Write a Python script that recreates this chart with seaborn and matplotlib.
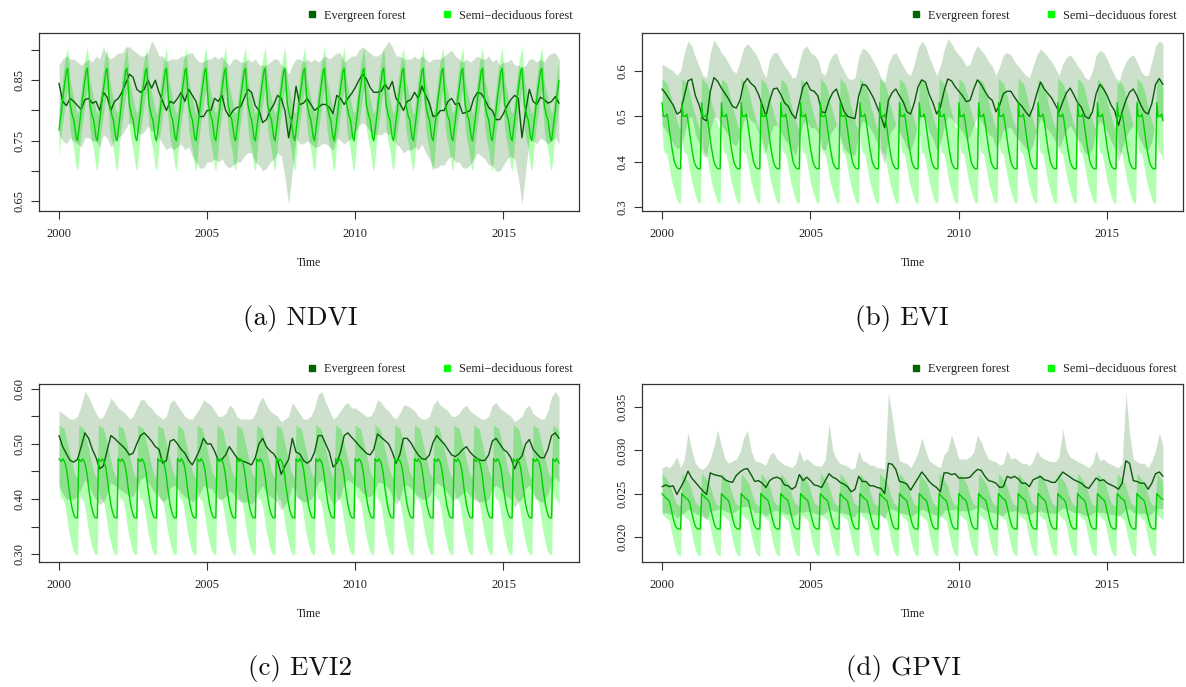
import numpy as np
import pandas as pd
import matplotlib
matplotlib.use("Agg")
import matplotlib.pyplot as plt
import seaborn as sns
from matplotlib.lines import Line2D

# ---------------- data ----------------
start_year = 2000
ever_per_year = 8          # evergreen series sampled every 1/8 year
semi_per_year = 24         # semi-deciduous series sampled every 1/24 year
n_ever = 136
n_semi = 406

x_ticks = [2000, 2005, 2010, 2015]
x_limits = (1999.325, 2017.55)

# ---- (a) NDVI ----
ndvi_ever_mean = [
    0.845, 0.815, 0.808, 0.82, 0.815, 0.808, 0.802, 0.818,
    0.82, 0.812, 0.815, 0.80, 0.83, 0.822, 0.80, 0.815,
    0.82, 0.83, 0.845, 0.86, 0.855, 0.835, 0.83, 0.835,
    0.85, 0.837, 0.85, 0.83, 0.815, 0.80, 0.815, 0.812,
    0.82, 0.83, 0.815, 0.835, 0.825, 0.815, 0.79, 0.79,
    0.80, 0.80, 0.82, 0.815, 0.825, 0.80, 0.79, 0.80,
    0.805, 0.806, 0.82, 0.835, 0.83, 0.808, 0.80, 0.78,
    0.785, 0.80, 0.81, 0.825, 0.82, 0.80, 0.755, 0.79,
    0.84, 0.81, 0.812, 0.82, 0.81, 0.80, 0.805, 0.81,
    0.81, 0.805, 0.795, 0.825, 0.82, 0.81, 0.82, 0.828,
    0.838, 0.85, 0.86, 0.852, 0.838, 0.83, 0.83, 0.832,
    0.843, 0.835, 0.848, 0.82, 0.812, 0.80, 0.815, 0.818,
    0.83, 0.82, 0.84, 0.825, 0.812, 0.79, 0.792, 0.80,
    0.80, 0.815, 0.82, 0.81, 0.812, 0.795, 0.797, 0.80,
    0.82, 0.83, 0.828, 0.818, 0.805, 0.80, 0.785, 0.785,
    0.795, 0.808, 0.818, 0.825, 0.82, 0.755, 0.80, 0.835,
    0.815, 0.81, 0.822, 0.818, 0.812, 0.815, 0.823, 0.812]
ndvi_ever_hi = [
    0.875, 0.885, 0.89, 0.885, 0.885, 0.88, 0.875, 0.88,
    0.885, 0.88, 0.89, 0.885, 0.905, 0.89, 0.885, 0.89,
    0.895, 0.895, 0.905, 0.905, 0.90, 0.895, 0.89, 0.89,
    0.895, 0.915, 0.905, 0.89, 0.89, 0.88, 0.885, 0.885,
    0.885, 0.89, 0.89, 0.895, 0.895, 0.885, 0.88, 0.88,
    0.885, 0.885, 0.89, 0.885, 0.89, 0.88, 0.875, 0.885,
    0.885, 0.88, 0.88, 0.885, 0.88, 0.885, 0.875, 0.875,
    0.875, 0.88, 0.885, 0.885, 0.875, 0.87, 0.86, 0.875,
    0.885, 0.885, 0.88, 0.885, 0.88, 0.885, 0.88, 0.885,
    0.89, 0.885, 0.89, 0.895, 0.895, 0.88, 0.885, 0.89,
    0.89, 0.90, 0.905, 0.90, 0.895, 0.89, 0.89, 0.895,
    0.905, 0.915, 0.905, 0.89, 0.89, 0.885, 0.885, 0.885,
    0.89, 0.885, 0.89, 0.885, 0.88, 0.885, 0.885, 0.885,
    0.89, 0.895, 0.90, 0.89, 0.885, 0.88, 0.885, 0.88,
    0.885, 0.89, 0.885, 0.885, 0.89, 0.88, 0.885, 0.875,
    0.88, 0.88, 0.885, 0.875, 0.875, 0.87, 0.875, 0.885,
    0.885, 0.88, 0.885, 0.88, 0.89, 0.895, 0.895, 0.885]
ndvi_ever_lo = [
    0.76, 0.75, 0.745, 0.755, 0.75, 0.745, 0.74, 0.755,
    0.755, 0.75, 0.75, 0.74, 0.76, 0.755, 0.74, 0.75,
    0.755, 0.76, 0.77, 0.78, 0.775, 0.765, 0.76, 0.765,
    0.775, 0.765, 0.77, 0.755, 0.745, 0.735, 0.74, 0.735,
    0.74, 0.745, 0.735, 0.74, 0.725, 0.715, 0.705, 0.705,
    0.715, 0.715, 0.72, 0.715, 0.72, 0.71, 0.705, 0.71,
    0.715, 0.715, 0.725, 0.73, 0.73, 0.715, 0.71, 0.70,
    0.705, 0.715, 0.72, 0.73, 0.725, 0.69, 0.645, 0.70,
    0.755, 0.745, 0.745, 0.75, 0.745, 0.74, 0.74, 0.745,
    0.745, 0.74, 0.735, 0.755, 0.75, 0.745, 0.75, 0.755,
    0.765, 0.775, 0.78, 0.775, 0.765, 0.76, 0.76, 0.76,
    0.765, 0.76, 0.765, 0.745, 0.74, 0.73, 0.735, 0.735,
    0.74, 0.735, 0.745, 0.73, 0.72, 0.705, 0.705, 0.71,
    0.71, 0.72, 0.725, 0.715, 0.715, 0.705, 0.705, 0.71,
    0.72, 0.73, 0.725, 0.72, 0.71, 0.71, 0.70, 0.70,
    0.71, 0.72, 0.725, 0.72, 0.69, 0.645, 0.70, 0.755,
    0.75, 0.745, 0.755, 0.75, 0.745, 0.75, 0.755, 0.745]
ndvi_semi_cycle_mean = [0.767, 0.785, 0.80, 0.82, 0.835, 0.85, 0.865, 0.87,
                        0.84, 0.81, 0.80, 0.79, 0.785, 0.77, 0.755, 0.75]
ndvi_semi_cycle_hi = [0.80, 0.82, 0.835, 0.855, 0.87, 0.885, 0.895, 0.905,
                      0.88, 0.85, 0.84, 0.83, 0.82, 0.81, 0.80, 0.795]
ndvi_semi_cycle_lo = [0.72, 0.745, 0.765, 0.78, 0.795, 0.81, 0.825, 0.835,
                      0.80, 0.77, 0.755, 0.745, 0.735, 0.72, 0.705, 0.70]
ndvi_yticks = [0.65, 0.70, 0.75, 0.80, 0.85, 0.90]
ndvi_yticklabels = ["0.65", "", "0.75", "", "0.85", ""]
ndvi_ylim = (0.634, 0.928)

# ---- (b) EVI ----
evi_ever_mean = [
    0.56, 0.55, 0.537, 0.525, 0.505, 0.51, 0.545, 0.578,
    0.582, 0.545, 0.525, 0.495, 0.49, 0.555, 0.585, 0.577,
    0.562, 0.55, 0.537, 0.522, 0.518, 0.535, 0.572, 0.583,
    0.572, 0.565, 0.548, 0.525, 0.50, 0.535, 0.56, 0.562,
    0.548, 0.53, 0.522, 0.505, 0.495, 0.53, 0.565, 0.575,
    0.558, 0.555, 0.545, 0.51, 0.508, 0.535, 0.552, 0.56,
    0.535, 0.512, 0.50, 0.497, 0.495, 0.545, 0.57, 0.568,
    0.555, 0.54, 0.52, 0.50, 0.475, 0.535, 0.552, 0.56,
    0.545, 0.532, 0.51, 0.505, 0.53, 0.565, 0.58, 0.575,
    0.548, 0.53, 0.505, 0.52, 0.555, 0.582, 0.578, 0.565,
    0.555, 0.545, 0.532, 0.535, 0.56, 0.58, 0.57, 0.555,
    0.542, 0.535, 0.51, 0.525, 0.55, 0.555, 0.555, 0.542,
    0.53, 0.522, 0.51, 0.50, 0.52, 0.55, 0.575, 0.56,
    0.55, 0.54, 0.525, 0.51, 0.532, 0.552, 0.562, 0.547,
    0.53, 0.52, 0.50, 0.495, 0.51, 0.55, 0.57, 0.56,
    0.545, 0.525, 0.512, 0.48, 0.51, 0.535, 0.553, 0.56,
    0.545, 0.525, 0.51, 0.505, 0.528, 0.57, 0.583, 0.57]
evi_ever_hi = [
    0.615, 0.61, 0.605, 0.60, 0.59, 0.60, 0.64, 0.665,
    0.655, 0.63, 0.61, 0.59, 0.585, 0.64, 0.668, 0.655,
    0.64, 0.63, 0.615, 0.60, 0.595, 0.62, 0.65, 0.66,
    0.65, 0.64, 0.625, 0.60, 0.585, 0.625, 0.64, 0.64,
    0.625, 0.61, 0.60, 0.585, 0.585, 0.62, 0.648, 0.655,
    0.64, 0.635, 0.625, 0.595, 0.59, 0.62, 0.635, 0.64,
    0.615, 0.60, 0.585, 0.58, 0.585, 0.63, 0.65, 0.645,
    0.635, 0.62, 0.605, 0.585, 0.575, 0.615, 0.635, 0.64,
    0.625, 0.61, 0.595, 0.59, 0.615, 0.65, 0.665, 0.655,
    0.63, 0.61, 0.59, 0.61, 0.645, 0.67, 0.66, 0.645,
    0.635, 0.625, 0.61, 0.615, 0.64, 0.655, 0.645, 0.635,
    0.62, 0.61, 0.59, 0.61, 0.635, 0.64, 0.635, 0.62,
    0.61, 0.60, 0.59, 0.585, 0.61, 0.635, 0.648, 0.64,
    0.63, 0.62, 0.605, 0.59, 0.615, 0.63, 0.635, 0.625,
    0.61, 0.60, 0.585, 0.58, 0.60, 0.635, 0.645, 0.64,
    0.625, 0.605, 0.59, 0.57, 0.60, 0.62, 0.63, 0.635,
    0.62, 0.60, 0.59, 0.59, 0.62, 0.655, 0.665, 0.66]
evi_ever_lo = [
    0.48, 0.47, 0.455, 0.44, 0.43, 0.43, 0.46, 0.495,
    0.50, 0.46, 0.44, 0.415, 0.41, 0.47, 0.50, 0.495,
    0.48, 0.47, 0.455, 0.44, 0.435, 0.455, 0.49, 0.50,
    0.49, 0.485, 0.465, 0.445, 0.42, 0.455, 0.48, 0.48,
    0.465, 0.45, 0.44, 0.425, 0.415, 0.45, 0.485, 0.49,
    0.475, 0.475, 0.465, 0.43, 0.425, 0.455, 0.47, 0.48,
    0.455, 0.43, 0.42, 0.415, 0.415, 0.465, 0.49, 0.485,
    0.475, 0.46, 0.44, 0.42, 0.395, 0.455, 0.47, 0.48,
    0.465, 0.45, 0.43, 0.425, 0.45, 0.485, 0.50, 0.495,
    0.465, 0.45, 0.425, 0.44, 0.475, 0.50, 0.495, 0.485,
    0.475, 0.465, 0.45, 0.455, 0.48, 0.50, 0.49, 0.475,
    0.46, 0.455, 0.43, 0.445, 0.47, 0.475, 0.475, 0.46,
    0.45, 0.44, 0.43, 0.42, 0.44, 0.47, 0.495, 0.48,
    0.47, 0.46, 0.445, 0.43, 0.45, 0.47, 0.48, 0.465,
    0.45, 0.44, 0.42, 0.415, 0.43, 0.47, 0.49, 0.48,
    0.465, 0.445, 0.43, 0.40, 0.43, 0.455, 0.47, 0.48,
    0.465, 0.445, 0.43, 0.425, 0.445, 0.49, 0.50, 0.49]
evi_semi_cycle_mean = [0.53, 0.50, 0.50, 0.50, 0.505, 0.49, 0.47, 0.45,
                       0.43, 0.415, 0.40, 0.393, 0.388, 0.385, 0.385, 0.385]
evi_semi_cycle_hi = [0.585, 0.58, 0.578, 0.575, 0.572, 0.565, 0.555, 0.545,
                     0.53, 0.52, 0.51, 0.50, 0.49, 0.48, 0.475, 0.47]
evi_semi_cycle_lo = [0.47, 0.43, 0.42, 0.42, 0.415, 0.40, 0.385, 0.37,
                     0.355, 0.345, 0.335, 0.325, 0.318, 0.31, 0.31, 0.31]
evi_yticks = [0.3, 0.4, 0.5, 0.6]
evi_yticklabels = ["0.3", "0.4", "0.5", "0.6"]
evi_ylim = (0.292, 0.683)

# ---- (c) EVI2 ----
evi2_ever_mean = [
    0.515, 0.495, 0.482, 0.47, 0.467, 0.472, 0.495, 0.52,
    0.51, 0.49, 0.475, 0.455, 0.46, 0.488, 0.515, 0.51,
    0.503, 0.497, 0.49, 0.48, 0.483, 0.50, 0.515, 0.52,
    0.513, 0.505, 0.495, 0.49, 0.465, 0.47, 0.505, 0.508,
    0.50, 0.49, 0.483, 0.47, 0.462, 0.475, 0.49, 0.51,
    0.50, 0.50, 0.487, 0.47, 0.472, 0.48, 0.495, 0.485,
    0.475, 0.47, 0.468, 0.465, 0.462, 0.475, 0.50, 0.51,
    0.495, 0.487, 0.482, 0.47, 0.445, 0.46, 0.472, 0.51,
    0.485, 0.482, 0.47, 0.465, 0.47, 0.485, 0.515, 0.515,
    0.50, 0.485, 0.458, 0.465, 0.485, 0.515, 0.52, 0.512,
    0.505, 0.497, 0.49, 0.483, 0.48, 0.49, 0.518, 0.512,
    0.506, 0.50, 0.485, 0.465, 0.48, 0.51, 0.51, 0.502,
    0.49, 0.48, 0.473, 0.472, 0.48, 0.503, 0.515, 0.507,
    0.50, 0.49, 0.48, 0.477, 0.482, 0.49, 0.495, 0.485,
    0.478, 0.473, 0.47, 0.47, 0.48, 0.505, 0.51, 0.50,
    0.49, 0.485, 0.475, 0.455, 0.47, 0.478, 0.50, 0.508,
    0.49, 0.482, 0.475, 0.475, 0.49, 0.515, 0.52, 0.51]
evi2_ever_hi = [
    0.56, 0.555, 0.55, 0.545, 0.545, 0.55, 0.57, 0.595,
    0.585, 0.57, 0.555, 0.545, 0.55, 0.565, 0.583, 0.575,
    0.565, 0.56, 0.555, 0.545, 0.55, 0.565, 0.58, 0.58,
    0.57, 0.565, 0.555, 0.55, 0.545, 0.55, 0.575, 0.58,
    0.57, 0.56, 0.55, 0.545, 0.545, 0.555, 0.565, 0.58,
    0.575, 0.57, 0.56, 0.55, 0.55, 0.555, 0.57, 0.565,
    0.55, 0.545, 0.545, 0.545, 0.545, 0.555, 0.575, 0.585,
    0.57, 0.56, 0.555, 0.55, 0.54, 0.545, 0.55, 0.575,
    0.565, 0.555, 0.545, 0.545, 0.55, 0.565, 0.59, 0.595,
    0.575, 0.56, 0.545, 0.55, 0.56, 0.57, 0.575, 0.565,
    0.565, 0.56, 0.555, 0.55, 0.55, 0.56, 0.58, 0.575,
    0.565, 0.56, 0.55, 0.545, 0.555, 0.57, 0.57, 0.565,
    0.56, 0.55, 0.545, 0.545, 0.55, 0.57, 0.58, 0.57,
    0.565, 0.56, 0.55, 0.55, 0.555, 0.565, 0.57, 0.56,
    0.555, 0.55, 0.545, 0.545, 0.55, 0.57, 0.575, 0.565,
    0.56, 0.555, 0.55, 0.54, 0.545, 0.55, 0.565, 0.57,
    0.555, 0.55, 0.545, 0.545, 0.56, 0.585, 0.595, 0.585]
evi2_ever_lo = [
    0.425, 0.41, 0.40, 0.40, 0.40, 0.405, 0.42, 0.435,
    0.425, 0.41, 0.40, 0.39, 0.395, 0.41, 0.43, 0.425,
    0.42, 0.415, 0.41, 0.405, 0.405, 0.42, 0.435, 0.44,
    0.43, 0.42, 0.41, 0.405, 0.395, 0.40, 0.42, 0.425,
    0.42, 0.41, 0.405, 0.40, 0.395, 0.40, 0.41, 0.425,
    0.42, 0.42, 0.41, 0.40, 0.40, 0.405, 0.415, 0.41,
    0.40, 0.395, 0.395, 0.395, 0.39, 0.40, 0.415, 0.425,
    0.41, 0.405, 0.40, 0.395, 0.38, 0.39, 0.40, 0.425,
    0.405, 0.40, 0.395, 0.395, 0.40, 0.41, 0.43, 0.435,
    0.42, 0.405, 0.39, 0.395, 0.405, 0.43, 0.435, 0.43,
    0.425, 0.42, 0.41, 0.405, 0.405, 0.41, 0.43, 0.43,
    0.425, 0.42, 0.405, 0.39, 0.40, 0.425, 0.425, 0.42,
    0.41, 0.405, 0.40, 0.40, 0.405, 0.42, 0.43, 0.425,
    0.42, 0.41, 0.40, 0.40, 0.405, 0.41, 0.415, 0.405,
    0.40, 0.395, 0.395, 0.395, 0.40, 0.42, 0.425, 0.42,
    0.41, 0.405, 0.40, 0.385, 0.395, 0.40, 0.42, 0.425,
    0.41, 0.40, 0.395, 0.395, 0.41, 0.43, 0.44, 0.43]
evi2_semi_cycle_mean = [0.473, 0.47, 0.468, 0.473, 0.47, 0.465, 0.455, 0.44,
                        0.42, 0.405, 0.39, 0.38, 0.372, 0.367, 0.366, 0.366]
evi2_semi_cycle_hi = [0.535, 0.533, 0.53, 0.53, 0.528, 0.52, 0.51, 0.50,
                      0.49, 0.48, 0.47, 0.46, 0.45, 0.445, 0.44, 0.44]
evi2_semi_cycle_lo = [0.42, 0.405, 0.40, 0.40, 0.395, 0.385, 0.37, 0.355,
                      0.34, 0.33, 0.32, 0.31, 0.305, 0.30, 0.30, 0.30]
evi2_yticks = [0.30, 0.35, 0.40, 0.45, 0.50, 0.55, 0.60]
evi2_yticklabels = ["0.30", "", "0.40", "", "0.50", "", "0.60"]
evi2_ylim = (0.286, 0.6085)

# ---- (d) GPVI ----
gpvi_ever_mean = [
    0.0258, 0.026, 0.0258, 0.0259, 0.0249, 0.0257, 0.0265, 0.0276,
    0.0268, 0.0263, 0.0258, 0.0253, 0.0249, 0.0274, 0.0272, 0.0271,
    0.027, 0.0266, 0.0264, 0.0263, 0.0271, 0.0275, 0.0278, 0.0279,
    0.0272, 0.0264, 0.0265, 0.0262, 0.0257, 0.0265, 0.0268, 0.0269,
    0.0267, 0.026, 0.0259, 0.0255, 0.0258, 0.0272, 0.0265, 0.0269,
    0.0265, 0.026, 0.0259, 0.0257, 0.0265, 0.0273, 0.0269, 0.0267,
    0.0263, 0.0261, 0.0258, 0.0252, 0.0255, 0.027, 0.0264, 0.0264,
    0.0259, 0.0259, 0.0257, 0.0256, 0.025, 0.0285, 0.0284, 0.0278,
    0.0264, 0.0263, 0.0261, 0.0254, 0.0261, 0.0268, 0.0275, 0.027,
    0.0264, 0.026, 0.0257, 0.0252, 0.0274, 0.0274, 0.0272, 0.0273,
    0.0268, 0.0268, 0.0268, 0.0269, 0.0274, 0.0278, 0.0277, 0.027,
    0.0265, 0.0264, 0.0262, 0.0257, 0.0258, 0.027, 0.0268, 0.027,
    0.0267, 0.0262, 0.0262, 0.0258, 0.0266, 0.0268, 0.027, 0.0266,
    0.0265, 0.0263, 0.0263, 0.0269, 0.0275, 0.0272, 0.0269, 0.0266,
    0.0264, 0.0262, 0.0258, 0.0256, 0.0262, 0.0268, 0.0265, 0.0266,
    0.0262, 0.026, 0.0258, 0.0255, 0.0262, 0.0288, 0.0285, 0.0265,
    0.0264, 0.0262, 0.0262, 0.0255, 0.0262, 0.0273, 0.0275, 0.027]
gpvi_ever_hi = [
    0.028, 0.0282, 0.028, 0.0285, 0.0293, 0.028, 0.029, 0.0321,
    0.030, 0.0285, 0.028, 0.0278, 0.0282, 0.029, 0.0305, 0.0324,
    0.0305, 0.029, 0.0285, 0.0288, 0.029, 0.0298, 0.0315, 0.0323,
    0.030, 0.0288, 0.0287, 0.0285, 0.0283, 0.0295, 0.0298, 0.029,
    0.0287, 0.0283, 0.0282, 0.028, 0.0285, 0.030, 0.0288, 0.029,
    0.0287, 0.0283, 0.0282, 0.0282, 0.029, 0.0331, 0.030, 0.029,
    0.0285, 0.0283, 0.0282, 0.0278, 0.028, 0.030, 0.0288, 0.0287,
    0.0283, 0.0283, 0.028, 0.028, 0.0278, 0.0367, 0.034, 0.031,
    0.0288, 0.0286, 0.0285, 0.028, 0.0288, 0.0298, 0.0315, 0.030,
    0.0288, 0.0285, 0.0282, 0.028, 0.0295, 0.030, 0.0318, 0.0305,
    0.029, 0.029, 0.029, 0.0293, 0.0298, 0.0318, 0.031, 0.0298,
    0.029, 0.0288, 0.0287, 0.0283, 0.0285, 0.030, 0.029, 0.0292,
    0.0288, 0.0285, 0.0285, 0.0282, 0.0288, 0.030, 0.0293, 0.029,
    0.0288, 0.0287, 0.0287, 0.0293, 0.0325, 0.030, 0.0292, 0.029,
    0.0287, 0.0285, 0.0283, 0.028, 0.0285, 0.030, 0.0288, 0.029,
    0.0286, 0.0284, 0.0282, 0.028, 0.0285, 0.0367, 0.032, 0.029,
    0.0287, 0.0285, 0.0285, 0.028, 0.0288, 0.030, 0.032, 0.0305]
gpvi_ever_lo = [
    0.0227, 0.0228, 0.0226, 0.0227, 0.0222, 0.0225, 0.0228, 0.0232,
    0.023, 0.0227, 0.0225, 0.0223, 0.022, 0.023, 0.023, 0.0232,
    0.0232, 0.023, 0.0228, 0.0227, 0.023, 0.0233, 0.0235, 0.0235,
    0.0232, 0.0228, 0.0228, 0.0227, 0.0224, 0.0228, 0.023, 0.023,
    0.023, 0.0227, 0.0226, 0.0224, 0.0225, 0.023, 0.0228, 0.023,
    0.0229, 0.0227, 0.0226, 0.0225, 0.0228, 0.0232, 0.023, 0.0229,
    0.0228, 0.0227, 0.0226, 0.0222, 0.0224, 0.023, 0.0228, 0.0228,
    0.0226, 0.0226, 0.0225, 0.0225, 0.0222, 0.0232, 0.0232, 0.023,
    0.0228, 0.0227, 0.0226, 0.0223, 0.0226, 0.0229, 0.0232, 0.023,
    0.0228, 0.0226, 0.0225, 0.0222, 0.023, 0.0232, 0.0231, 0.0232,
    0.023, 0.023, 0.023, 0.023, 0.0232, 0.0235, 0.0234, 0.0231,
    0.0229, 0.0228, 0.0227, 0.0225, 0.0225, 0.023, 0.0229, 0.023,
    0.0229, 0.0227, 0.0227, 0.0225, 0.0228, 0.0229, 0.023, 0.0228,
    0.0228, 0.0227, 0.0227, 0.023, 0.0233, 0.0232, 0.023, 0.0228,
    0.0228, 0.0227, 0.0225, 0.0224, 0.0227, 0.0229, 0.0228, 0.0228,
    0.0227, 0.0226, 0.0225, 0.0224, 0.0227, 0.0232, 0.0232, 0.0228,
    0.0228, 0.0227, 0.0227, 0.0224, 0.0227, 0.0232, 0.0233, 0.0232]
gpvi_semi_cycle_mean = [0.025, 0.0248, 0.0247, 0.0245, 0.0244, 0.0243, 0.0241, 0.0235,
                        0.0228, 0.0222, 0.0216, 0.0212, 0.021, 0.0209, 0.0209, 0.0209]
gpvi_semi_cycle_hi = [0.0273, 0.0272, 0.027, 0.0268, 0.0266, 0.0264, 0.0262, 0.0258,
                      0.0253, 0.0248, 0.0244, 0.024, 0.0238, 0.0237, 0.0236, 0.0236]
gpvi_semi_cycle_lo = [0.0228, 0.0225, 0.0224, 0.0222, 0.0221, 0.022, 0.0218, 0.021,
                      0.0203, 0.0196, 0.019, 0.0185, 0.0181, 0.0179, 0.0178, 0.0178]
gpvi_yticks = [0.020, 0.025, 0.030, 0.035]
gpvi_yticklabels = ["0.020", "0.025", "0.030", "0.035"]
gpvi_ylim = (0.01707, 0.0377)

captions = ["(a) NDVI", "(b) EVI", "(c) EVI2", "(d) GPVI"]
legend_labels = ["Evergreen forest", "Semi\u2212deciduous forest"]

# ---------------- styling ----------------
ever_line = "#0a5a0a"
ever_fill = "#006400"
semi_line = "#00d200"
semi_fill = "#00ff00"
legend_ever = "#006400"
legend_semi = "#00ff00"
frame_col = "#333333"

sns.set_theme(style="white")
plt.rcParams["font.family"] = ["Liberation Serif", "DejaVu Serif"]

t_ever = start_year + np.arange(n_ever) / ever_per_year
t_semi = start_year + np.arange(n_semi) / semi_per_year


def semi_series(cycle):
    reps = int(np.ceil(n_semi / len(cycle)))
    return np.tile(np.asarray(cycle), reps)[:n_semi]


panels = [
    dict(em=ndvi_ever_mean, eh=ndvi_ever_hi, el=ndvi_ever_lo,
         sm=ndvi_semi_cycle_mean, sh=ndvi_semi_cycle_hi, sl=ndvi_semi_cycle_lo,
         yt=ndvi_yticks, ytl=ndvi_yticklabels, yl=ndvi_ylim),
    dict(em=evi_ever_mean, eh=evi_ever_hi, el=evi_ever_lo,
         sm=evi_semi_cycle_mean, sh=evi_semi_cycle_hi, sl=evi_semi_cycle_lo,
         yt=evi_yticks, ytl=evi_yticklabels, yl=evi_ylim),
    dict(em=evi2_ever_mean, eh=evi2_ever_hi, el=evi2_ever_lo,
         sm=evi2_semi_cycle_mean, sh=evi2_semi_cycle_hi, sl=evi2_semi_cycle_lo,
         yt=evi2_yticks, ytl=evi2_yticklabels, yl=evi2_ylim),
    dict(em=gpvi_ever_mean, eh=gpvi_ever_hi, el=gpvi_ever_lo,
         sm=gpvi_semi_cycle_mean, sh=gpvi_semi_cycle_hi, sl=gpvi_semi_cycle_lo,
         yt=gpvi_yticks, ytl=gpvi_yticklabels, yl=gpvi_ylim),
]

W, H = 1186, 687
fig = plt.figure(figsize=(W / 100, H / 100), dpi=100)

# axes boxes in pixel coordinates (left, right, top, bottom)
boxes = [(39, 579, 33, 211), (642, 1183, 33, 211),
         (39, 579, 384, 562), (642, 1183, 384, 562)]
legend_y_px = [15.7, 15.7, 369.3, 369.3]
legend_right_px = [573, 1177, 573, 1177]
caption_pos = [(300, 318), (902, 318), (300, 668), (904, 668)]

for i, p in enumerate(panels):
    l, r, t, b = boxes[i]
    ax = fig.add_axes([l / W, 1 - b / H, (r - l) / W, (b - t) / H])
    ax.set_facecolor("white")

    ever_df = pd.DataFrame({"t": t_ever, "mean": p["em"], "hi": p["eh"], "lo": p["el"]})
    semi_df = pd.DataFrame({"t": t_semi, "mean": semi_series(p["sm"]),
                            "hi": semi_series(p["sh"]), "lo": semi_series(p["sl"])})

    ax.fill_between(semi_df["t"], semi_df["lo"], semi_df["hi"],
                    color=semi_fill, alpha=0.3, linewidth=0, zorder=1)
    ax.fill_between(ever_df["t"], ever_df["lo"], ever_df["hi"],
                    color=ever_fill, alpha=0.2, linewidth=0, zorder=1)
    sns.lineplot(data=ever_df, x="t", y="mean", ax=ax, color=ever_line,
                 linewidth=1.0, legend=False, zorder=3)
    sns.lineplot(data=semi_df, x="t", y="mean", ax=ax, color=semi_line,
                 linewidth=1.0, legend=False, zorder=4)

    ax.set_xlim(*x_limits)
    ax.set_ylim(*p["yl"])
    ax.set_xticks(x_ticks)
    ax.set_xticklabels([str(v) for v in x_ticks])
    ax.set_yticks(p["yt"])
    ax.set_yticklabels(p["ytl"])
    for lab in ax.get_yticklabels():
        lab.set_rotation(90)
        lab.set_va("center")
    ax.tick_params(axis="both", which="major", direction="out", length=5.5,
                   width=0.8, color=frame_col, labelsize=9, labelcolor="#222222",
                   bottom=True, left=True, top=False, right=False)
    ax.tick_params(axis="x", pad=6.5)
    ax.tick_params(axis="y", pad=4)
    for s in ax.spines.values():
        s.set_visible(True)
        s.set_color(frame_col)
        s.set_linewidth(0.9)

    ax.set_ylabel("")
    ax.set_xlabel("Time", fontsize=8.5, color="#222222")
    ax.xaxis.set_label_coords(0.5, -(257 - 211) / 178)

    handles = [Line2D([], [], marker="s", linestyle="none", markersize=4,
                      markerfacecolor=legend_ever, markeredgecolor=legend_ever),
               Line2D([], [], marker="s", linestyle="none", markersize=4,
                      markerfacecolor=legend_semi, markeredgecolor=legend_semi)]
    lx = (legend_right_px[i] - l) / (r - l)
    ly = (b - legend_y_px[i]) / (b - t)
    leg = ax.legend(handles, legend_labels, loc="center right",
                    bbox_to_anchor=(lx, ly), ncol=2, frameon=False,
                    fontsize=8.8, handlelength=0.8, handletextpad=0.6,
                    columnspacing=3.0, borderpad=0, borderaxespad=0)
    for txt in leg.get_texts():
        txt.set_color("#222222")

    cx, cy = caption_pos[i]
    fig.text(cx / W, 1 - cy / H, captions[i], ha="center", va="center",
             fontfamily="cmr10", fontsize=19.5, color="#111111")

fig.savefig("out.png", dpi=100, facecolor="white")
